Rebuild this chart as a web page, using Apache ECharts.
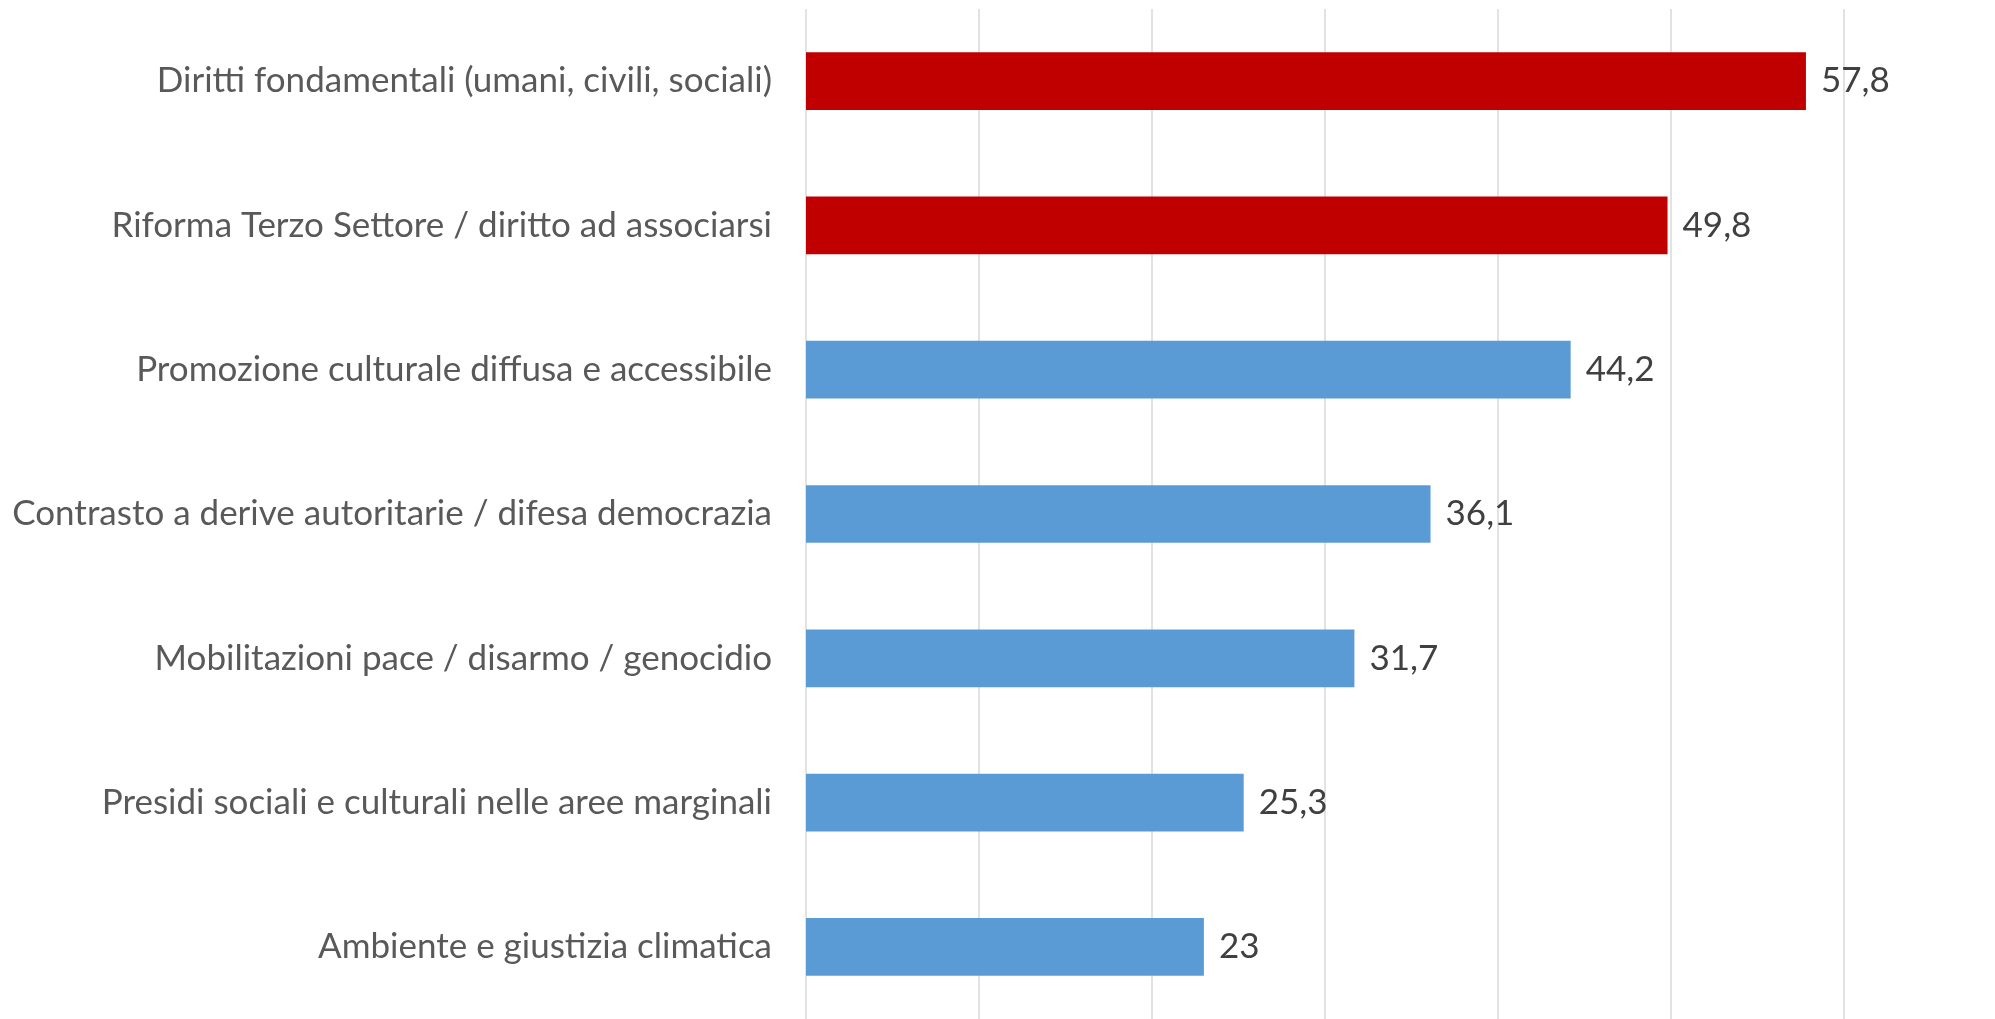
<!DOCTYPE html>
<html>
<head>
<meta charset="utf-8">
<script src="https://cdn.jsdelivr.net/npm/echarts@6/dist/echarts.min.js"></script>
<style>
  html, body { margin: 0; padding: 0; background: #fff; }
  #chart { width: 1995px; height: 1019px; }
</style>
</head>
<body>
<div id="chart"></div>
<script>
  // dati del grafico
  var categories = [
    'Diritti fondamentali (umani, civili, sociali)',
    'Riforma Terzo Settore / diritto ad associarsi',
    'Promozione culturale diffusa e accessibile',
    'Contrasto a derive autoritarie / difesa democrazia',
    'Mobilitazioni pace / disarmo / genocidio',
    'Presidi sociali e culturali nelle aree marginali',
    'Ambiente e giustizia climatica'
  ];
  var values = [57.8, 49.8, 44.2, 36.1, 31.7, 25.3, 23];
  var highlighted = [true, true, false, false, false, false, false];

  var RED = '#C00000';
  var BLUE = '#5B9BD5';

  var myChart = echarts.init(document.getElementById('chart'));
  var option = {
    animation: false,
    grid: {
      left: 806,
      right: 151,
      top: 9,
      bottom: -6
    },
    xAxis: {
      type: 'value',
      min: 0,
      max: 60,
      interval: 10,
      axisLabel: {show: false},
      axisTick: {show: false},
      axisLine: {show: false},
      splitLine: {show: true, lineStyle: {color: '#D9D9D9', width: 1.5}}
    },
    yAxis: {
      type: 'category',
      inverse: true,
      data: categories,
      axisLine: {show: false},
      axisTick: {show: false},
      axisLabel: {
        margin: 34,
        color: '#595959',
        fontSize: 35,
        fontFamily: 'Lato'
      }
    },
    series: [
      {
        type: 'bar',
        barWidth: '40%',
        data: values.map(function (v, i) {
          return {value: v, itemStyle: {color: highlighted[i] ? RED : BLUE}};
        }),
        label: {
          show: true,
          position: 'right',
          distance: 15,
          color: '#404040',
          fontSize: 35,
          fontFamily: 'Lato',
          formatter: function (p) {
            return String(p.value).replace('.', ',');
          }
        }
      }
    ]
  };
  myChart.setOption(option, true);
</script>
</body>
</html>
